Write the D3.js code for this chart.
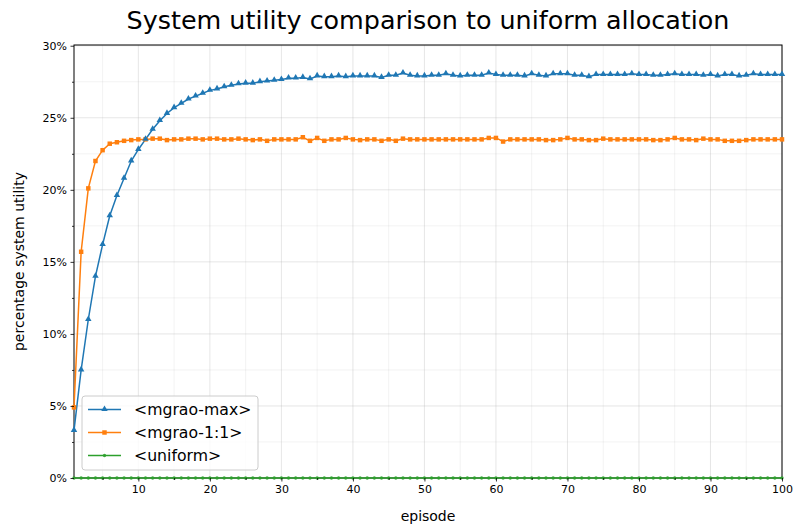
<!DOCTYPE html>
<html><head><meta charset="utf-8">
<script src="https://cdn.jsdelivr.net/npm/d3@7"></script>
<style>body{margin:0;background:#fff}svg{display:block;font-family:"DejaVu Sans",sans-serif}</style>
</head><body><svg id="c" width="796" height="527"></svg>
<script>
const title = "System utility comparison to uniform allocation";
const xLabel = "episode";
const yLabel = "percentage system utility";
const seriesNames = ["<mgrao-max>", "<mgrao-1:1>", "<uniform>"];
const episodes = d3.range(1, 101);
const mgraoMax = [3.3,7.5,11.0,14.0,16.2,18.2,19.6,20.8,22.0,22.8,
23.5,24.2,24.8,25.3,25.7,26.0,26.3,26.5,26.7,26.9,
27.0,27.15,27.25,27.35,27.4,27.4,27.5,27.55,27.6,27.65,
27.75,27.75,27.8,27.7,27.9,27.85,27.85,27.9,27.85,27.9,
27.9,27.9,27.9,27.8,27.95,27.95,28.1,27.95,27.9,27.9,
27.95,27.95,28.05,27.95,27.9,27.95,27.95,27.95,28.1,28.0,
27.95,27.95,27.95,27.9,28.05,27.95,27.9,28.05,28.05,28.05,
27.95,27.95,27.85,28.0,28.0,28.0,28.0,28.0,28.05,28.0,
28.0,27.95,27.95,28.0,28.05,28.0,28.0,28.0,27.95,28.0,
27.9,28.0,28.0,27.9,27.95,28.05,28.0,28.0,28.0,28.0];
const mgrao11 = [4.9,15.7,20.1,22.0,22.75,23.2,23.3,23.4,23.45,23.5,
23.5,23.55,23.55,23.45,23.5,23.5,23.55,23.55,23.5,23.55,
23.55,23.5,23.5,23.55,23.5,23.45,23.5,23.4,23.5,23.5,
23.5,23.5,23.65,23.4,23.6,23.4,23.5,23.5,23.6,23.5,
23.45,23.5,23.5,23.4,23.5,23.4,23.55,23.5,23.5,23.5,
23.5,23.5,23.5,23.5,23.5,23.5,23.5,23.5,23.6,23.6,
23.35,23.5,23.5,23.5,23.5,23.5,23.45,23.45,23.5,23.6,
23.5,23.5,23.45,23.45,23.55,23.5,23.5,23.5,23.5,23.5,
23.5,23.45,23.45,23.5,23.6,23.5,23.5,23.45,23.55,23.5,
23.5,23.4,23.4,23.4,23.45,23.5,23.5,23.5,23.5,23.5];
const uniform = [0,0,0,0,0,0,0,0,0,0, 0,0,0,0,0,0,0,0,0,0,
0,0,0,0,0,0,0,0,0,0, 0,0,0,0,0,0,0,0,0,0,
0,0,0,0,0,0,0,0,0,0, 0,0,0,0,0,0,0,0,0,0,
0,0,0,0,0,0,0,0,0,0, 0,0,0,0,0,0,0,0,0,0,
0,0,0,0,0,0,0,0,0,0, 0,0,0,0,0,0,0,0,0,0];
const xTicks = [10,20,30,40,50,60,70,80,90,100];
const xMinor = [5,15,25,35,45,55,65,75,85,95];
const yTicks = [0,5,10,15,20,25,30];
const yMinor = [2.5,7.5,12.5,17.5,22.5,27.5];
const colors = ["#1f77b4","#ff7f0e","#2ca02c"];

const svg = d3.select("#c");
const L=74, R=782, T=45, B=478;
const x = d3.scaleLinear().domain([1,100]).range([L,R]);
const y = d3.scaleLinear().domain([0,30.05]).range([B,T]);

// grid
const g = svg.append("g");
g.selectAll("line.xmn").data(xMinor).join("line").attr("x1",d=>x(d)).attr("x2",d=>x(d)).attr("y1",T).attr("y2",B).attr("stroke","#b0b0b0").attr("stroke-opacity",0.2).attr("stroke-width",0.8);
g.selectAll("line.ymn").data(yMinor).join("line").attr("y1",d=>y(d)).attr("y2",d=>y(d)).attr("x1",L).attr("x2",R).attr("stroke","#b0b0b0").attr("stroke-opacity",0.2).attr("stroke-width",0.8);
g.selectAll("line.xmj").data(xTicks).join("line").attr("x1",d=>x(d)).attr("x2",d=>x(d)).attr("y1",T).attr("y2",B).attr("stroke","#b0b0b0").attr("stroke-opacity",0.4).attr("stroke-width",0.8);
g.selectAll("line.ymj").data(yTicks).join("line").attr("y1",d=>y(d)).attr("y2",d=>y(d)).attr("x1",L).attr("x2",R).attr("stroke","#b0b0b0").attr("stroke-opacity",0.4).attr("stroke-width",0.8);

// spines
svg.append("rect").attr("x",L).attr("y",T).attr("width",R-L).attr("height",B-T).attr("fill","none").attr("stroke","#000").attr("stroke-width",1);

// series
const data = [mgraoMax, mgrao11, uniform];
const line = d3.line().x((d,i)=>x(episodes[i])).y(d=>y(d));
const plot = svg.append("g");
data.forEach((s,k)=>{
  plot.append("path").datum(s).attr("d",line).attr("fill","none").attr("stroke",colors[k]).attr("stroke-width",1.5);
});
const triSym = d3.symbol().type(d3.symbolTriangle).size(18);
const sqSym = d3.symbol().type(d3.symbolSquare).size(20);
const dotSym = d3.symbol().type(d3.symbolCircle).size(9);
function markers(gg, k, sx, sy){
  if(k===0) return gg.append("path").attr("d",triSym()).attr("transform",`translate(${sx},${sy-0.4})`).attr("fill",colors[0]);
  if(k===1) return gg.append("path").attr("d",sqSym()).attr("transform",`translate(${sx},${sy})`).attr("fill",colors[1]);
  return gg.append("path").attr("d",dotSym()).attr("transform",`translate(${sx},${sy})`).attr("fill",colors[2]).attr("fill-opacity",0.9);
}
[2,1,0].forEach(k=>{
  const mg = plot.append("g");
  data[k].forEach((v,i)=>markers(mg,k,x(episodes[i]),y(v)));
});

// axes
const xa = svg.append("g").attr("transform",`translate(0,${B})`).call(d3.axisBottom(x).tickValues(xTicks).tickSize(3.5).tickPadding(3.5).tickFormat(d3.format("d")));
const xm = svg.append("g").attr("transform",`translate(0,${B})`).call(d3.axisBottom(x).tickValues(xMinor).tickSize(2).tickFormat(""));
const ya = svg.append("g").attr("transform",`translate(${L},0)`).call(d3.axisLeft(y).tickValues(yTicks).tickSize(3.5).tickPadding(3.5).tickFormat(d=>d+"%"));
const ym = svg.append("g").attr("transform",`translate(${L},0)`).call(d3.axisLeft(y).tickValues(yMinor).tickSize(2).tickFormat(""));
[xa,xm,ya,ym].forEach(a=>{a.select(".domain").remove();a.selectAll("line").attr("stroke","#000").attr("stroke-width",0.8);a.selectAll("text").attr("fill","#000").attr("font-size",11).attr("font-family","DejaVu Sans");});

// labels
svg.append("text").attr("x",(L+R)/2).attr("y",29).attr("text-anchor","middle").attr("font-size",25.4).attr("fill","#000").text(title);
svg.append("text").attr("x",(L+R)/2).attr("y",521).attr("text-anchor","middle").attr("font-size",14).attr("fill","#000").text(xLabel);
svg.append("text").attr("transform",`translate(24,${(T+B)/2}) rotate(-90)`).attr("text-anchor","middle").attr("font-size",14).attr("fill","#000").text(yLabel);

// legend
const lg = svg.append("g");
lg.append("rect").attr("x",82).attr("y",396).attr("width",176).attr("height",74).attr("rx",3).attr("fill","#fff").attr("fill-opacity",0.8).attr("stroke","#cccccc").attr("stroke-width",1);
seriesNames.forEach((n,k)=>{
  const yy = 409.5 + k*23;
  lg.append("line").attr("x1",88).attr("x2",121).attr("y1",yy).attr("y2",yy).attr("stroke",colors[k]).attr("stroke-width",1.5);
  markers(lg,k,104.5,yy);
  lg.append("text").attr("x",134).attr("y",yy+5.5).attr("font-size",15.7).attr("fill","#000").text(n);
});
</script></body></html>
